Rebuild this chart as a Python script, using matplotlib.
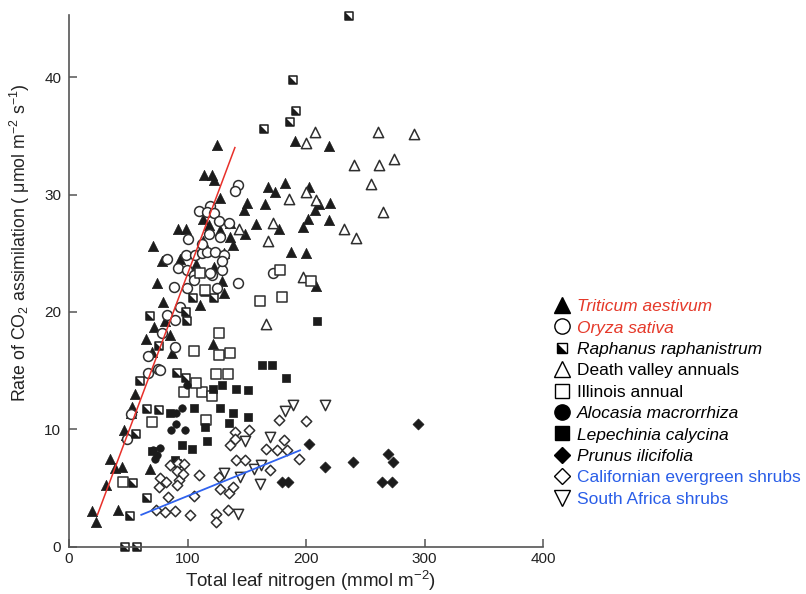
import matplotlib
matplotlib.use('Agg')
import matplotlib.pyplot as plt
from matplotlib.path import Path
from matplotlib.lines import Line2D
from matplotlib.legend_handler import HandlerTuple

plt.rcParams['font.family'] = ['Liberation Sans', 'DejaVu Sans']
plt.rcParams['mathtext.fontset'] = 'custom'
plt.rcParams['mathtext.rm'] = 'Liberation Sans'
plt.rcParams['mathtext.it'] = 'Liberation Sans:italic'
plt.rcParams['mathtext.bf'] = 'Liberation Sans:bold'

# ---------------- data ----------------
triticum_x = [125, 114, 120.6, 122, 127.6, 190.5, 219.2, 168, 174, 182, 202.6, 150.2, 147.3, 165.1, 211, 208,
              220.6, 135.5, 157.8, 177.3, 202, 197.5, 219.8, 127.6, 148.8, 135.5, 138.4, 187.4, 200.3, 131,
              208.2, 121.1, 113.5, 117.8, 92.4, 98.9, 113, 71.3, 78.4, 93.8, 107.1, 122, 74.6, 129, 130.4,
              79.7, 110.7, 72.1, 81.1, 65.1, 69.9, 85.4, 86.8, 55.8, 53, 52.4, 46.5, 47.9, 34.7, 38.9, 44.5,
              31, 68.5, 41.7, 19.2, 22.5]
triticum_y = [34.2, 31.7, 31.7, 31.2, 29.7, 34.6, 34.1, 30.6, 30.2, 31.0, 30.6, 29.3, 28.7, 29.2, 29.2, 28.7,
              29.3, 27.6, 27.5, 27.1, 27.9, 27.2, 27.8, 27.0, 26.6, 26.4, 25.7, 25.1, 25.0, 25.0,
              22.2, 17.3, 27.9, 27.4, 27.1, 27.1, 26.0, 25.6, 24.3, 24.5, 24.1, 23.8, 22.5, 22.6, 21.6,
              20.8, 20.6, 18.7, 19.2, 17.7, 16.6, 18.0, 16.5, 13.0, 11.9, 11.4, 9.9, 9.5, 7.5, 6.7, 6.8,
              5.2, 6.6, 3.1, 3.0, 2.1]

oryza_x = [143, 139.7, 118.6, 110.1, 116.4, 122.6, 126.2, 134.7, 100.8, 117.8, 127.6, 83.1, 98.9, 106.5,
           112.2, 116.4, 123.4, 130.4, 92.4, 99.5, 105.1, 120.6, 129, 142.6, 172.2, 89, 99.5, 105.7, 124.8,
           93.8, 83.1, 89.6, 78.4, 89.6, 67, 75.5, 67, 76.9, 52.2, 48.8, 129, 119.2, 112.5]
oryza_y = [30.8, 30.3, 29.0, 28.6, 28.5, 28.4, 27.7, 27.55, 26.2, 26.6, 26.4, 24.5, 24.85, 24.85,
           25.0, 25.1, 25.1, 24.85, 23.7, 23.6, 23.1, 23.1, 23.6, 22.5, 23.3, 22.1, 22.0, 22.7, 22.0,
           20.4, 19.7, 19.3, 18.2, 17.0, 16.2, 15.1, 14.8, 15.05, 11.3, 9.2, 24.3, 23.3, 25.8]

raphanus_x = [236.7, 188.8, 191.9, 186.8, 164.8, 122, 104.6, 98.6, 99.5, 68.5, 76.3, 91.5, 98.6, 60,
              65.7, 76.3, 56.6, 54.4, 65.7, 51.6, 47.3, 57.2, 115]
raphanus_y = [45.2, 39.8, 37.1, 36.2, 35.6, 21.2, 21.2, 20.0, 19.2, 19.65, 17.1, 14.8, 14.4, 14.1,
              11.7, 11.6, 9.6, 5.4, 4.1, 2.6, 0.0, 0.0, 21.7]

death_x = [207.7, 200.3, 260.6, 291, 240.3, 261.5, 274.1, 254.7, 200.3, 185.4, 208.2, 264.6, 143.1,
           172.2, 231.9, 242, 168.2, 197.2, 166.3]
death_y = [35.3, 34.4, 35.3, 35.2, 32.5, 32.5, 33.0, 30.9, 30.2, 29.6, 29.5, 28.5, 27.1,
           27.6, 27.1, 26.3, 26.0, 23.0, 19.0]

illinois_x = [177.8, 204.6, 160.9, 179.5, 126.2, 126.2, 136.1, 124.3, 134.2, 112.2, 120.6, 115.8, 107.4,
              97.2, 69.9, 45.9, 110.7, 115, 105.7]
illinois_y = [23.6, 22.6, 20.9, 21.3, 18.2, 16.3, 16.5, 14.7, 14.7, 13.2, 12.8, 10.8, 13.9,
              13.2, 10.6, 5.5, 23.3, 21.9, 16.7]

alocasia_x = [99.5, 95.1, 90.4, 86, 90.2, 98, 71.3, 74.1, 76.9, 72.7]
alocasia_y = [13.8, 11.8, 11.4, 9.9, 10.4, 9.9, 8.2, 7.8, 8.4, 7.5]

lepechinia_x = [209.4, 162.9, 171.3, 183.4, 121.5, 129, 140.9, 150.7, 127.1, 138.1, 151.1, 115, 135.2,
                116.4, 85.4, 105.6, 95.3, 103.7, 89.6, 91, 69.9]
lepechinia_y = [19.2, 15.5, 15.5, 14.4, 13.4, 13.8, 13.4, 13.3, 11.8, 11.4, 11.0, 10.2, 10.5,
                9.0, 11.4, 11.8, 8.65, 8.3, 7.4, 7.1, 8.1]

prunus_x = [202.3, 216.4, 239.5, 269.4, 273.6, 263.8, 272.3, 179.5, 184.9, 294.7]
prunus_y = [8.7, 6.75, 7.2, 7.9, 7.2, 5.5, 5.5, 5.5, 5.5, 10.4]

calif_x = [140.3, 151.6, 136.1, 139.7, 177.5, 199.8, 166.5, 175.6, 181.1, 184, 194.4, 141.2, 148.8, 126.2,
           169.3, 127.6, 134.6, 138.4, 133.8, 124.2, 123.9, 85.4, 92.4, 97.2, 76.9, 82, 76.1, 91, 93,
           91.5, 96.6, 109.3, 83.9, 73.3, 80.6, 89.6, 101.7, 105.1]
calif_y = [9.8, 9.9, 8.65, 9.2, 10.8, 10.7, 8.3, 8.2, 9.1, 8.2, 7.5, 7.4, 7.4, 5.95,
           6.5, 4.9, 4.6, 5.1, 3.1, 2.8, 2.1, 6.95, 7.1, 7.0, 5.8, 5.5, 5.1, 6.4, 5.7,
           5.2, 6.2, 6.1, 4.25, 3.1, 2.9, 3.0, 2.7, 4.3]

safrica_x = [189.1, 182.6, 216.4, 148.8, 169.3, 131, 144.5, 155.8, 162.3, 161.5, 142.3]
safrica_y = [12.1, 11.55, 12.1, 9.0, 9.3, 6.3, 5.9, 6.6, 6.95, 5.3, 2.8]

red_line_x = [24, 140]
red_line_y = [2.7, 34.0]
blue_line_x = [61, 195]
blue_line_y = [2.7, 8.2]

x_ticks = [0, 100, 200, 300, 400]
y_ticks = [0, 10, 20, 30, 40]

labels = ['Triticum aestivum', 'Oryza sativa', 'Raphanus raphanistrum', 'Death valley annuals',
          'Illinois annual', 'Alocasia macrorrhiza', 'Lepechinia calycina', 'Prunus ilicifolia',
          'Californian evergreen shrubs', 'South Africa shrubs']
label_colors = ['#e5392a', '#e5392a', 'black', 'black', 'black', 'black', 'black', 'black',
                '#2a5ee8', '#2a5ee8']
label_italic = [True, True, True, False, False, True, True, True, False, False]

# ---------------- figure ----------------
fig = plt.figure(figsize=(8.06, 5.94), dpi=100)
ax = fig.add_axes([69 / 806, 47.5 / 594, 474 / 806, 531.5 / 594])
ax.set_xlim(0, 400)
ax.set_ylim(0, 45.3)

ink = '#1c1c1c'
edge = '#2e2e2e'
lw = 1.1

tri_half = Path([(-1, 1), (-1, -1), (1, -1), (-1, 1)],
                [Path.MOVETO, Path.LINETO, Path.LINETO, Path.CLOSEPOLY])

kw = dict(clip_on=False, zorder=2)
ax.scatter(triticum_x, triticum_y, marker='^', s=7.4**2, c=ink, edgecolors=ink, linewidths=0.5, **kw)
ax.scatter(oryza_x, oryza_y, marker='o', s=7.1**2, facecolors='white', edgecolors=edge, linewidths=lw, **kw)
ax.scatter(raphanus_x, raphanus_y, marker='s', s=6.3**2, facecolors='white', edgecolors=ink, linewidths=lw, **kw)
ax.scatter(raphanus_x, raphanus_y, marker=tri_half, s=6.3**2, c=ink, linewidths=0, **kw)
ax.scatter(death_x, death_y, marker='^', s=7.4**2, facecolors='white', edgecolors=edge, linewidths=lw, **kw)
ax.scatter(illinois_x, illinois_y, marker='s', s=6.8**2, facecolors='white', edgecolors=edge, linewidths=lw, **kw)
ax.scatter(alocasia_x, alocasia_y, marker='o', s=5.4**2, c=ink, linewidths=0.5, **kw)
ax.scatter(lepechinia_x, lepechinia_y, marker='s', s=5.9**2, c=ink, linewidths=0.5, **kw)
ax.scatter(prunus_x, prunus_y, marker='D', s=5.6**2, c=ink, linewidths=0.5, **kw)
ax.scatter(calif_x, calif_y, marker='D', s=5.3**2, facecolors='white', edgecolors=edge, linewidths=lw, **kw)
ax.scatter(safrica_x, safrica_y, marker='v', s=7.4**2, facecolors='white', edgecolors=edge, linewidths=lw, **kw)

ax.plot(red_line_x, red_line_y, color='#e8302a', lw=1.1, zorder=3)
ax.plot(blue_line_x, blue_line_y, color='#2f62ee', lw=1.3, zorder=3)

for side in ['top', 'right']:
    ax.spines[side].set_visible(False)
for side in ['left', 'bottom']:
    ax.spines[side].set_color('#555555')
    ax.spines[side].set_linewidth(1.2)
ax.set_xticks(x_ticks)
ax.set_yticks(y_ticks)
ax.tick_params(direction='in', length=6, width=1.1, color='#555555', labelsize=11, labelcolor='#222222')
ax.tick_params(axis='y', pad=5.5)
ax.tick_params(axis='x', pad=4)

ax.set_xlabel('Total leaf nitrogen (mmol m$^{-2}$)', fontsize=13.5, color='#222222')
ax.xaxis.label.set_va('baseline')
ax.xaxis.set_label_coords(0.51, -0.077)
ax.set_ylabel('Rate of CO$_2$ assimilation ( \u03bcmol m$^{-2}$ s$^{-1}$)', fontsize=12.8,
              color='#222222')
ax.yaxis.set_label_coords(-0.079, 0.571)

# ---------------- legend ----------------
handles = [
    Line2D([], [], ls='none', marker='^', ms=11.5, mfc='black', mec='black'),
    Line2D([], [], ls='none', marker='o', ms=11, mfc='white', mec='black', mew=1.0),
    (Line2D([], [], ls='none', marker='s', ms=6.5, mfc='white', mec='black', mew=1.0),
     Line2D([], [], ls='none', marker=tri_half, ms=6.5, mfc='black', mec='black', mew=0)),
    Line2D([], [], ls='none', marker='^', ms=11.5, mfc='white', mec='black', mew=1.0),
    Line2D([], [], ls='none', marker='s', ms=10, mfc='white', mec='black', mew=1.0),
    Line2D([], [], ls='none', marker='o', ms=11, mfc='black', mec='black'),
    Line2D([], [], ls='none', marker='s', ms=10, mfc='black', mec='black'),
    Line2D([], [], ls='none', marker='D', ms=8.5, mfc='black', mec='black'),
    Line2D([], [], ls='none', marker='D', ms=8.5, mfc='white', mec='black', mew=1.0),
    Line2D([], [], ls='none', marker='v', ms=12, mfc='white', mec='black', mew=1.0),
]
leg = fig.legend(handles, labels, loc='upper left', bbox_to_anchor=(553 / 806, 1 - 299 / 594),
                 frameon=False, fontsize=12.5, borderpad=0, borderaxespad=0, handlelength=1.0,
                 handletextpad=0.4, labelspacing=0.36, handler_map={tuple: HandlerTuple(ndivide=1)})
for t, c, it in zip(leg.get_texts(), label_colors, label_italic):
    t.set_color(c)
    if it:
        t.set_style('italic')

fig.savefig('out.png', dpi=100)
